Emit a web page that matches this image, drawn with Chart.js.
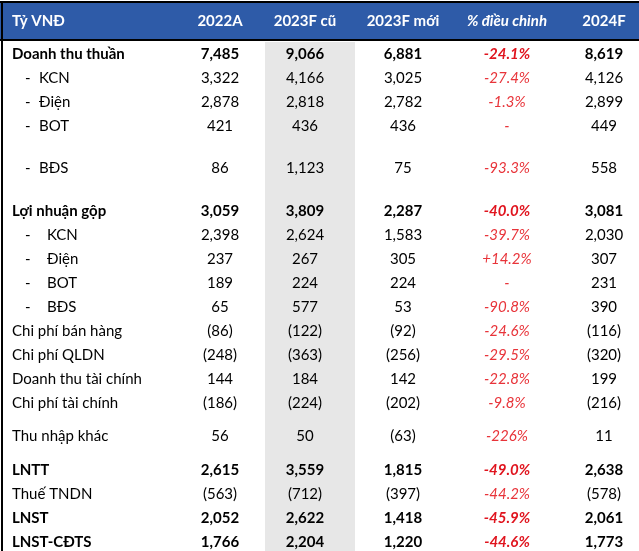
<!DOCTYPE html>
<html>
<head>
<meta charset="utf-8">
<script src="https://cdn.jsdelivr.net/npm/chart.js@4/dist/chart.umd.min.js"></script>
<style>
  html, body { margin: 0; padding: 0; background: #fff; }
  canvas { display: block; }
</style>
</head>
<body>
<canvas id="tbl" width="639" height="551"></canvas>
<script>
// dữ liệu bảng
const columns = ['Tỷ VNĐ', '2022A', '2023F cũ', '2023F mới', '% điều chỉnh', '2024F'];
const rowLabels = ['Doanh thu thuần', 'KCN', 'Điện', 'BOT', 'BĐS',
  'Lợi nhuận gộp', 'KCN', 'Điện', 'BOT', 'BĐS',
  'Chi phí bán hàng', 'Chi phí QLDN', 'Doanh thu tài chính', 'Chi phí tài chính',
  'Thu nhập khác', 'LNTT', 'Thuế TNDN', 'LNST', 'LNST-CĐTS'];
const v2022A   = [7485, 3322, 2878, 421, 86, 3059, 2398, 237, 189, 65, -86, -248, 144, -186, 56, 2615, -563, 2052, 1766];
const v2023Old = [9066, 4166, 2818, 436, 1123, 3809, 2624, 267, 224, 577, -122, -363, 184, -224, 50, 3559, -712, 2622, 2204];
const v2023New = [6881, 3025, 2782, 436, 75, 2287, 1583, 305, 224, 53, -92, -256, 142, -202, -63, 1815, -397, 1418, 1220];
const pctAdj   = [-24.1, -27.4, -1.3, null, -93.3, -40.0, -39.7, 14.2, null, -90.8, -24.6, -29.5, -22.8, -9.8, -226, -49.0, -44.2, -45.9, -44.6];
const v2024F   = [8619, 4126, 2899, 449, 558, 3081, 2030, 307, 231, 390, -116, -320, 199, -216, 11, 2638, -578, 2061, 1773];

// kiểu dòng (in đậm / thụt lề)
const boldRows = [0, 5, 15, 17, 18];
const rowIndent = [0, 1, 1, 1, 1, 0, 2, 2, 2, 2, 0, 0, 0, 0, 0, 0, 0, 0, 0];

// bố cục
const W = 639, H = 551;
const colX = [12, 220, 305, 403, 507, 604];
const rowH = [24, 24, 24, 24, 61, 24, 24, 24, 24, 24, 24, 24, 24, 24, 43, 24, 24, 24, 24];
const headerTop = 3, headerBottom = 40, bodyTop = 42;
const greyCol = [265, 355];
const FONT = 'Lato, "Open Sans", sans-serif';
const FS = 15;

const rowY = [];
let acc = bodyTop;
rowH.forEach(h => { rowY.push(acc + h / 2); acc += h; });

const fmtNum = v => {
  const s = Math.abs(v).toLocaleString('en-US');
  return v < 0 ? '(' + s + ')' : s;
};
const fmtPct = v => {
  if (v === null) return '-';
  const s = Math.abs(v) >= 100 ? v.toFixed(0) : v.toFixed(1);
  return (v > 0 ? '+' : '') + s + '%';
};

const series = [rowLabels, v2022A, v2023Old, v2023New, pctAdj, v2024F];
const datasets = series.map((arr, c) => ({
  label: columns[c],
  data: arr.map((_, r) => ({ x: colX[c], y: rowY[r] })),
  pointRadius: 0,
  pointHoverRadius: 0
}));

const tablePlugin = {
  id: 'tablePlugin',
  beforeDatasetsDraw(chart) {
    const { ctx, scales: { x, y } } = chart;
    ctx.save();
    // cột xám
    ctx.fillStyle = '#e7e7e7';
    ctx.fillRect(x.getPixelForValue(greyCol[0]), y.getPixelForValue(bodyTop),
      x.getPixelForValue(greyCol[1]) - x.getPixelForValue(greyCol[0]), y.getPixelForValue(H) - y.getPixelForValue(bodyTop));
    // tiêu đề
    ctx.fillStyle = '#2e5ba8';
    ctx.fillRect(0, y.getPixelForValue(headerTop), W, y.getPixelForValue(headerBottom) - y.getPixelForValue(headerTop));
    ctx.fillStyle = '#000';
    ctx.fillRect(0, 1, W, 2);
    ctx.fillRect(0, y.getPixelForValue(headerBottom - 1), W, 2);
    ctx.fillRect(1, 1, 2, H);
    const hy = y.getPixelForValue((headerTop + headerBottom) / 2);
    ctx.textBaseline = 'middle';
    ctx.fillStyle = '#fff';
    columns.forEach((t, c) => {
      ctx.font = (c === 4 ? 'italic ' : '') + 'bold ' + FS + 'px ' + FONT;
      ctx.textAlign = c === 0 ? 'left' : 'center';
      ctx.fillText(t, x.getPixelForValue(colX[c]), hy);
    });
    ctx.restore();
  },
  afterDatasetsDraw(chart) {
    const { ctx } = chart;
    ctx.save();
    ctx.textBaseline = 'middle';
    chart.data.datasets.forEach((ds, c) => {
      const meta = chart.getDatasetMeta(c);
      meta.data.forEach((el, r) => {
        const bold = boldRows.includes(r);
        const v = series[c][r];
        if (c === 0) {
          ctx.font = (bold ? 'bold ' : '') + FS + 'px ' + FONT;
          ctx.fillStyle = '#000';
          ctx.textAlign = 'left';
          if (rowIndent[r] > 0) {
            ctx.fillText('-', el.x + 13, el.y);
            ctx.fillText(v, el.x + (rowIndent[r] === 1 ? 27 : 35), el.y);
          } else {
            ctx.fillText(v, el.x, el.y);
          }
        } else if (c === 4) {
          ctx.font = 'italic ' + (bold ? 'bold ' : '') + FS + 'px ' + FONT;
          ctx.fillStyle = bold ? '#e0141e' : '#e8343a';
          ctx.textAlign = 'center';
          ctx.fillText(fmtPct(v), el.x, el.y);
        } else {
          ctx.font = (bold ? 'bold ' : '') + FS + 'px ' + FONT;
          ctx.fillStyle = '#000';
          ctx.textAlign = 'center';
          ctx.fillText(fmtNum(v), el.x, el.y);
        }
      });
    });
    ctx.restore();
  }
};

new Chart(document.getElementById('tbl'), {
  type: 'scatter',
  data: { datasets },
  options: {
    responsive: false,
    animation: false,
    devicePixelRatio: 1,
    layout: { padding: 0 },
    events: [],
    plugins: { legend: { display: false }, tooltip: { enabled: false } },
    scales: {
      x: { type: 'linear', min: 0, max: W, display: false },
      y: { type: 'linear', min: 0, max: H, reverse: true, display: false }
    }
  },
  plugins: [tablePlugin]
});
</script>
</body>
</html>
